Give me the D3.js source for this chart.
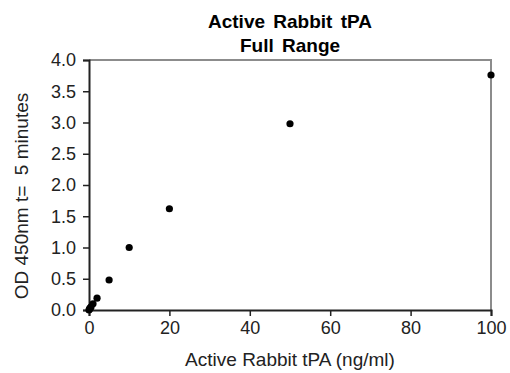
<!DOCTYPE html>
<html lang="en">
<head>
<meta charset="UTF-8">
<title>Active Rabbit tPA</title>
<script src="https://cdn.jsdelivr.net/npm/d3@7"></script>
<style>
  body { margin: 0; background: #fff; }
  text { font-family: "Liberation Sans", Arial, sans-serif; }
</style>
</head>
<body>
<script>
// concentration (ng/ml) and OD 450nm readings
var conc = [0, 0.125, 0.25, 0.5, 1, 2, 5, 10, 20, 50, 100];
var od = [0.0, 0.015, 0.03, 0.05, 0.1, 0.19, 0.48, 1.0, 1.62, 2.98, 3.76];
var xTicks = [0, 20, 40, 60, 80, 100];
var yTicks = [0, 0.5, 1, 1.5, 2, 2.5, 3, 3.5, 4];

var w = 510, h = 373,
    padLeft = 89, padRight = 491, padTop = 60, padBottom = 310;

var svg = d3.select("body").append("svg")
    .attr("width", w)
    .attr("height", h);

var x = d3.scaleLinear().domain([0, 100]).range([padLeft, padRight]);
var y = d3.scaleLinear().domain([0, 4]).range([padBottom, padTop]);

// gray frame on top / right
svg.append("path")
    .attr("d", "M" + padLeft + "," + padTop + "H" + padRight + "V" + padBottom)
    .attr("fill", "none")
    .attr("stroke", "#8c8c8c")
    .attr("stroke-width", 2);

var xAxis = svg.append("g")
    .attr("transform", "translate(0," + padBottom + ")")
    .call(d3.axisBottom(x).tickValues(xTicks).tickSize(6).tickPadding(5)
        .tickFormat(d3.format("d")));

var yAxis = svg.append("g")
    .attr("transform", "translate(" + padLeft + ",0)")
    .call(d3.axisLeft(y).tickValues(yTicks).tickSize(6).tickPadding(7)
        .tickFormat(d3.format(".1f")));

[xAxis, yAxis].forEach(function(g) {
    g.select(".domain").attr("stroke", "#222").attr("stroke-width", 2);
    g.selectAll(".tick line").attr("stroke", "#222").attr("stroke-width", 1.5);
    g.selectAll(".tick text")
        .attr("font-family", "Liberation Sans, Arial, sans-serif")
        .attr("font-size", "18px")
        .attr("fill", "#222");
});

svg.selectAll("circle")
    .data(conc)
    .enter()
    .append("circle")
    .attr("cx", function(d) { return x(d); })
    .attr("cy", function(d, i) { return y(od[i]); })
    .attr("r", 3.6)
    .attr("fill", "#000");

// titles
svg.append("text")
    .attr("x", (padLeft + padRight) / 2)
    .attr("y", 28)
    .attr("text-anchor", "middle")
    .attr("font-size", "19px")
    .attr("font-weight", "bold")
    .attr("word-spacing", "3px")
    .text("Active Rabbit tPA");

svg.append("text")
    .attr("x", (padLeft + padRight) / 2)
    .attr("y", 52)
    .attr("text-anchor", "middle")
    .attr("font-size", "19px")
    .attr("font-weight", "bold")
    .attr("word-spacing", "3px")
    .text("Full Range");

svg.append("text")
    .attr("x", (padLeft + padRight) / 2)
    .attr("y", 366)
    .attr("text-anchor", "middle")
    .attr("font-size", "19px")
    .attr("fill", "#222")
    .text("Active Rabbit tPA (ng/ml)");

svg.append("text")
    .attr("transform", "translate(28,196) rotate(-90)")
    .attr("text-anchor", "middle")
    .attr("font-size", "19px")
    .attr("fill", "#222")
    .attr("xml:space", "preserve")
    .text("OD 450nm t=  5 minutes");
</script>
</body>
</html>
